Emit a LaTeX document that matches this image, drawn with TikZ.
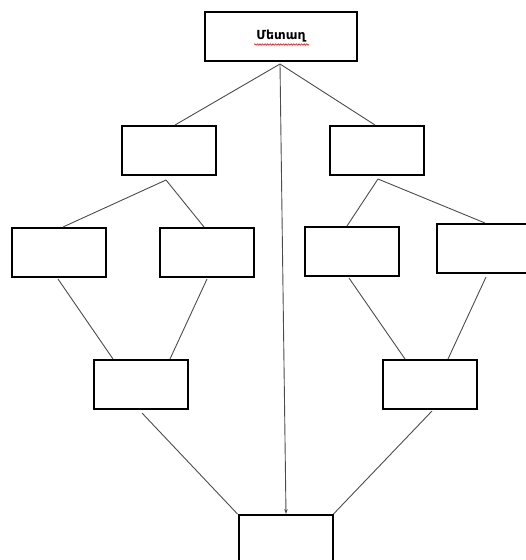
\documentclass[tikz,border=0pt]{standalone}
\usepackage{fontspec}
\newfontfamily\armfont{DejaVu Sans}
\usetikzlibrary{arrows.meta,decorations.pathmorphing}
\begin{document}
\begin{tikzpicture}[x=1pt, y=-1pt, box/.style={rectangle, draw, line width=2pt, minimum width=94pt, minimum height=49pt, inner sep=0pt}, link/.style={draw=black!70, line width=0.9pt}, spell/.style={draw=red, line width=0.6pt, decorate, decoration={snake, amplitude=0.7pt, segment length=2.6pt}}]

		\useasboundingbox (0,0) rectangle (526,560);
		\clip (0,0) rectangle (526,560);

		\node[box, minimum width=152pt] (metal) at (281, 36.5) {\armfont\bfseries\fontsize{12.5}{14}\selectfont Մետաղ};
		\node[box] (lmid) at (168.5, 150.5) {};
		\node[box] (rmid) at (377, 150.5) {};
		\node[box] (la) at (59, 252.5) {};
		\node[box] (lb) at (207, 252.5) {};
		\node[box] (rc) at (351.5, 251.5) {};
		\node[box, minimum width=110pt] (rd) at (492, 248.5) {};
		\node[box] (lbot) at (140.5, 384.5) {};
		\node[box] (rbot) at (429.5, 384.5) {};
		\node[box] (fin) at (285.5, 539.5) {};

		\draw[spell] ([xshift=-27pt, yshift=-8pt]metal.center) -- ([xshift=28pt, yshift=-8pt]metal.center);

		\draw[link] ([xshift=-1pt, yshift=-2pt]metal.south) -- ([xshift=6.5pt]lmid.north);
		\draw[link] ([xshift=-1pt, yshift=-2pt]metal.south) -- ([xshift=-2pt]rmid.north);
		\draw[link, -{Stealth[length=5pt, width=3.5pt]}] ([xshift=-1pt, yshift=-2pt]metal.south) -- ([xshift=0.5pt]fin.north);
		\draw[link] ([xshift=-2.5pt, yshift=-4pt]lmid.south) -- ([xshift=4pt]la.north);
		\draw[link] ([xshift=-2.5pt, yshift=-4pt]lmid.south) -- ([xshift=-3pt]lb.north);
		\draw[link] ([xshift=1pt, yshift=-3pt]rmid.south) -- ([xshift=-4.5pt]rc.north);
		\draw[link] ([xshift=1pt, yshift=-3pt]rmid.south) -- ([xshift=-7pt]rd.north);
		\draw[link] ([xshift=-1pt, yshift=-1pt]la.south) -- ([xshift=-27.5pt]lbot.north);
		\draw[link] ([yshift=-1pt]lb.south) -- ([xshift=29.5pt]lbot.north);
		\draw[link] ([xshift=-2.5pt, yshift=-1pt]rc.south) -- ([xshift=-24.5pt]rbot.north);
		\draw[link] ([xshift=-6pt, yshift=-3pt]rd.south) -- ([xshift=18.5pt]rbot.north);
		\draw[link] ([xshift=1.5pt, yshift=-3pt]lbot.south) -- (fin.north west);
		\draw[link] ([xshift=2.5pt, yshift=-1pt]rbot.south) -- (fin.north east);
	\end{tikzpicture}
\end{document}
